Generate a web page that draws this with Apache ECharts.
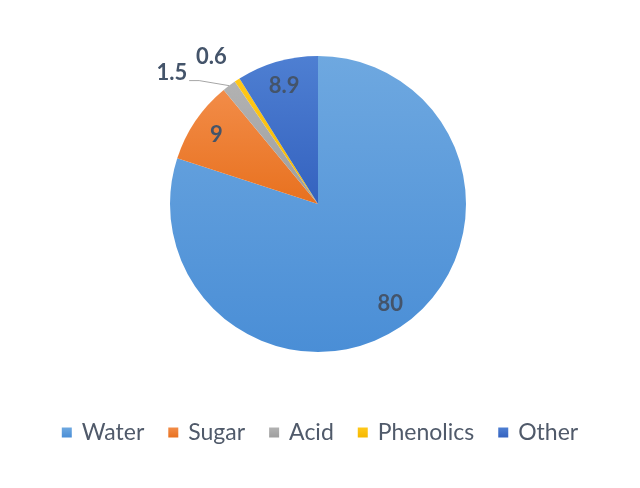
<!DOCTYPE html>
<html>
<head>
<meta charset="utf-8">
<script src="https://cdn.jsdelivr.net/npm/echarts@6/dist/echarts.min.js"></script>
<style>html,body{margin:0;padding:0;background:#fff}#c{width:640px;height:488px}</style>
</head>
<body>
<div id="c"></div>
<script>
const categories = ['Water', 'Sugar', 'Acid', 'Phenolics', 'Other'];
const values = [80, 9, 1.5, 0.6, 8.9];
const colorsTop = ['#6EA8E0', '#F28C48', '#B2B2B2', '#FFC81A', '#4E7FD2'];
const colorsBottom = ['#4A8ED6', '#E8711F', '#9E9E9E', '#F5B800', '#3462BF'];
const insideLabel = [true, true, false, false, true];

const grad = (i) => new echarts.graphic.LinearGradient(0, 0, 0, 1, [
  { offset: 0, color: colorsTop[i] }, { offset: 1, color: colorsBottom[i] }
]);
const FONT = 'Lato, "Open Sans", sans-serif';
const LABEL_COLOR = '#44546A';

const mainData = categories.map((n, i) => {
  const d = { name: n, value: values[i], itemStyle: { color: grad(i) } };
  if (insideLabel[i]) {
    d.label = { show: false };
    d.labelLine = { show: false };
  } else if (n === 'Acid') {
    d.label = { show: true, position: 'outside' };
    d.labelLine = { show: true, length: 22, length2: 10, lineStyle: { color: '#A6A6A6', width: 1 } };
  } else {
    d.label = { show: true, position: 'outside' };
    d.labelLine = { show: false, length: 28, length2: 0 };
  }
  return d;
});

const overlayData = categories.map((n, i) => ({
  name: n, value: values[i],
  label: { show: insideLabel[i] }
}));

const chart = echarts.init(document.getElementById('c'));
chart.setOption({
  animation: false,
  legend: {
    bottom: 39,
    left: 'center',
    icon: 'rect',
    itemWidth: 10,
    itemHeight: 10,
    itemGap: 24,
    data: categories,
    textStyle: { fontFamily: FONT, fontSize: 23, color: '#505A6A', padding: [0, 0, 0, 5] }
  },
  series: [
    {
      type: 'pie',
      center: [318, 204],
      radius: [0, 148],
      startAngle: 90,
      clockwise: true,
      data: mainData,
      labelLayout: function (p) {
        if (p.dataIndex === 2) return { dx: 3, dy: -8 };
        if (p.dataIndex === 3) return { dx: 10, dy: 0 };
        return {};
      },
      label: {
        fontFamily: FONT, fontSize: 22, fontWeight: 'bold', color: LABEL_COLOR,
        formatter: '{c}'
      },
      itemStyle: { borderWidth: 0 },
      emphasis: { disabled: true }
    },
    {
      type: 'pie',
      center: [318, 204],
      radius: [92, 148],
      startAngle: 90,
      clockwise: true,
      silent: true,
      legendHoverLink: false,
      data: overlayData,
      itemStyle: { color: 'rgba(0,0,0,0)', borderWidth: 0 },
      label: {
        position: 'inside',
        fontFamily: FONT, fontSize: 22, fontWeight: 'bold', color: LABEL_COLOR,
        formatter: '{c}'
      },
      labelLine: { show: false },
      emphasis: { disabled: true }
    }
  ]
});
</script>
</body>
</html>
